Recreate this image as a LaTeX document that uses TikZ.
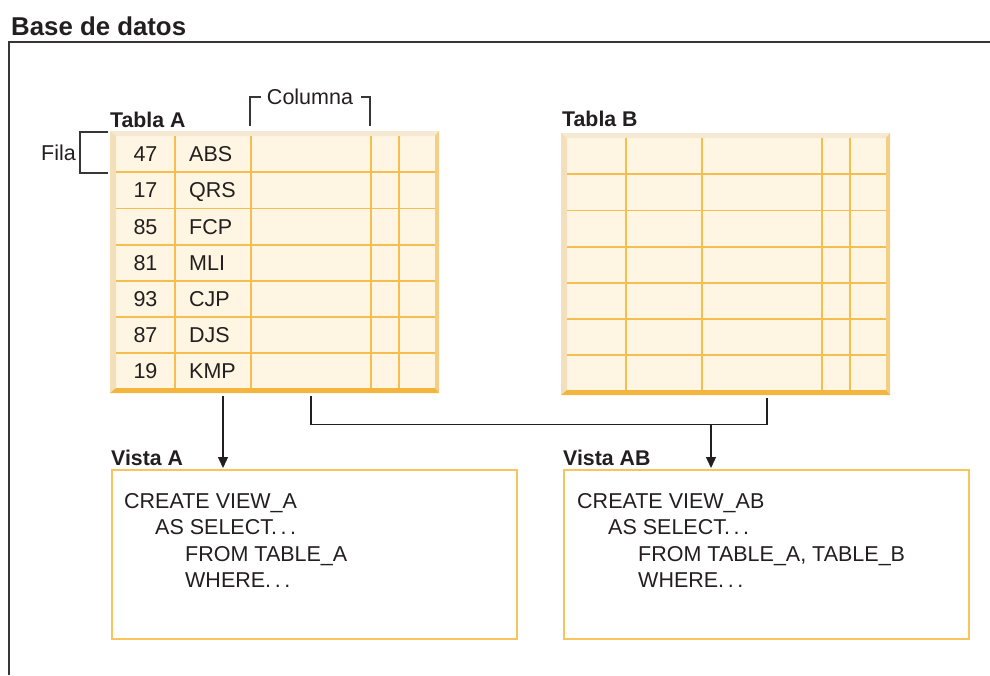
\documentclass[tikz,border=0pt]{standalone}
\usepackage{fontspec}
\setmainfont{Liberation Sans}
\usetikzlibrary{arrows.meta}
\definecolor{ink}{HTML}{231F20}
\definecolor{cellfill}{HTML}{FEF6E2}
\definecolor{gridc}{HTML}{F6BE4F}
\definecolor{bevtop}{HTML}{F5E9D4}
\definecolor{bevleft}{HTML}{F3DFBB}
\definecolor{bevright}{HTML}{F5CE85}
\definecolor{bevbot}{HTML}{F4B53E}
\definecolor{viewc}{HTML}{F8C45E}
\begin{document}
\begin{tikzpicture}[x=1pt,y=-1pt,
  txt/.style={font=\fontsize{21.5}{25}\selectfont, text=ink, inner sep=0pt},
  boldtxt/.style={font=\bfseries\fontsize{21.3}{25}\selectfont, text=ink, inner sep=0pt},
  tablebox/.style={draw=none, fill=cellfill, inner sep=0pt, minimum width=329pt, minimum height=262pt, anchor=north west},
  viewbox/.style={draw=viewc, line width=1.5pt, fill=white, inner sep=0pt, minimum width=405pt, minimum height=169pt, anchor=north west},
  gridline/.style={draw=gridc, line width=1.5pt},
  frameline/.style={draw=ink!90, line width=1.3pt},
  conn/.style={draw=ink, line width=1.3pt},
  arr/.style={conn, -{Triangle[length=11pt,width=10pt]}},
]
\useasboundingbox (0,0) rectangle (990,675);
% outer frame
\node[anchor=base west, font=\bfseries\fontsize{25.8}{30}\selectfont, text=ink, inner sep=0pt] (title) at (11,35) {Base de datos};
\draw[frameline] (990,42) -- (9,42) -- (9,675);

% tables
\node[tablebox] (ta) at (110,131) {};
\node[tablebox] (tb) at (561,133) {};
\foreach \t in {ta,tb}{
  \begin{scope}[shift={(\t.north west)}]
    \fill[bevtop] (0,0) -- (329,0) -- (325,5) -- (6,5) -- cycle;
    \fill[bevleft] (0,0) -- (6,5) -- (6,257) -- (0,262) -- cycle;
    \fill[bevright] (329,0) -- (329,262) -- (325,257) -- (325,5) -- cycle;
    \fill[bevbot] (0,262) -- (329,262) -- (325,257) -- (6,257) -- cycle;
    \foreach \yy in {41,77.5,114,150,186,222}{
      \draw[gridline] (6,\yy) -- (325,\yy);
    }
    \foreach \xx in {65,141,261,289}{
      \draw[gridline] (\xx,5) -- (\xx,257);
    }
  \end{scope}
}
\node[boldtxt, anchor=base west] (tla) at (110,127) {Tabla A};
\node[boldtxt, anchor=base west] (tlb) at (562,126) {Tabla B};

% table A contents
\begin{scope}[shift={(ta.north west)}]
\foreach \n/\c [count=\i from 0] in {47/ABS,17/QRS,85/FCP,81/MLI,93/CJP,87/DJS,19/KMP}{
  \node[txt, anchor=base] (num\i) at (35.5,30.8+36.1*\i) {\n};
  \node[txt, anchor=base west] (cod\i) at (79,30.8+36.1*\i) {\c};
}
\end{scope}

% Fila bracket
\node[txt, anchor=east] (fila) at (76,153) {Fila};
\draw[frameline] (108,132) -- (80,132) -- (80,173) -- (108,173);

% Columna bracket
\node[txt] (col) at (310,97) {Columna};
\draw[frameline] (250,126) -- (250,97) -- (261,97);
\draw[frameline] (361,97) -- (370,97) -- (370,126);

% views
\node[viewbox] (va) at (111,469) {};
\node[viewbox] (vab) at (563,469) {};
\node[boldtxt, anchor=base west] (lva) at (111,465) {Vista A};
\node[boldtxt, anchor=base west] (lvab) at (563,465) {Vista AB};

\node[txt, anchor=base west] (a1) at (124,508) {CREATE VIEW\_A};
\node[txt, anchor=base west] (a2) at (155,534.5) {AS SELECT.\,.\,.};
\node[txt, anchor=base west] (a3) at (185,561) {FROM TABLE\_A};
\node[txt, anchor=base west] (a4) at (185,587.5) {WHERE.\,.\,.};

\node[txt, anchor=base west] (b1) at (577,508) {CREATE VIEW\_AB};
\node[txt, anchor=base west] (b2) at (608,534.5) {AS SELECT.\,.\,.};
\node[txt, anchor=base west] (b3) at (638,561) {FROM TABLE\_A, TABLE\_B};
\node[txt, anchor=base west] (b4) at (638,587.5) {WHERE.\,.\,.};

% connectors
\draw[arr] ([xshift=113pt,yshift=-3pt]ta.south west) -- ([xshift=112pt,yshift=1pt]va.north west);
\coordinate (jn) at ([xshift=150pt,yshift=-29pt]tb.south west);
\draw[conn] ([xshift=201pt,yshift=-3pt]ta.south west) |- ([xshift=206pt,yshift=-29pt]tb.south west) -- ([xshift=206pt,yshift=-3pt]tb.south west);
\draw[arr] (jn) -- ([xshift=148pt,yshift=1pt]vab.north west);
\end{tikzpicture}
\end{document}
